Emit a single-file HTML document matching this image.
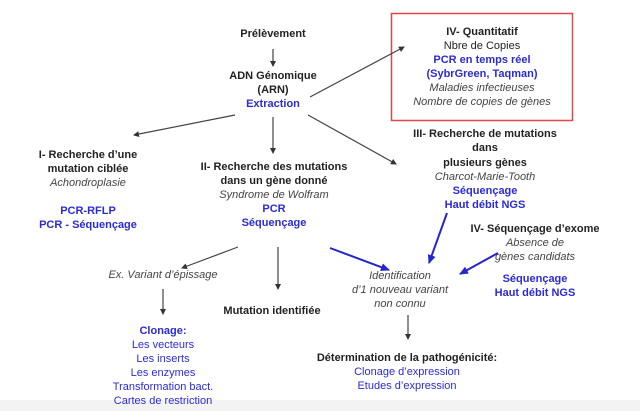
<!DOCTYPE html>
<html><head><meta charset="utf-8"><style>
html,body{margin:0;padding:0;background:#fff;width:640px;height:411px;overflow:hidden}
svg{display:block}
text{font-family:"Liberation Sans",Arial,sans-serif;font-size:11px;fill:#222;text-anchor:middle}
.b{font-weight:bold}
.i{font-style:italic;fill:#444}
.bl{fill:#2b2bd6}
</style></head><body>
<svg width="640" height="411" viewBox="0 0 640 411">
<defs>
<marker id="ak" markerWidth="6" markerHeight="6" refX="5" refY="3" orient="auto" markerUnits="userSpaceOnUse"><path d="M0,0 L6,3 L0,6 z" fill="#333"/></marker>
<marker id="ab" markerWidth="9" markerHeight="8" refX="8" refY="4" orient="auto" markerUnits="userSpaceOnUse"><path d="M0,0 L9,4 L0,8 z" fill="#2424d0"/></marker>
</defs>
<rect x="0" y="400" width="640" height="11" fill="#f3f3f3"/>
<rect x="391.5" y="13.5" width="181" height="107" fill="none" stroke="#e04848" stroke-width="1.5"/>
<g stroke="#444" stroke-width="1.2" fill="none" marker-end="url(#ak)">
<line x1="273" y1="49" x2="273" y2="66"/>
<line x1="310" y1="97" x2="404" y2="47"/>
<line x1="235" y1="115" x2="134" y2="135"/>
<line x1="273" y1="117" x2="273" y2="153"/>
<line x1="308" y1="115" x2="396" y2="164"/>
<line x1="238" y1="247" x2="182" y2="268"/>
<line x1="278" y1="247" x2="278" y2="289"/>
<line x1="163" y1="289" x2="163" y2="314"/>
<line x1="408" y1="315" x2="408" y2="339"/>
</g>
<g stroke="#2424d0" stroke-width="2" fill="none" marker-end="url(#ab)">
<line x1="330" y1="248" x2="389" y2="270"/>
<line x1="447" y1="213" x2="429" y2="263"/>
<line x1="498" y1="253" x2="460" y2="274"/>
</g>
<text x="273" y="37" class="b">Prélèvement</text>
<text x="273" y="79" class="b">ADN Génomique</text>
<text x="273" y="93" class="b">(ARN)</text>
<text x="273" y="107" class="b bl">Extraction</text>
<text x="482" y="35" class="b">IV- Quantitatif</text>
<text x="482" y="49">Nbre de Copies</text>
<text x="482" y="63" class="b bl">PCR en temps réel</text>
<text x="482" y="77" class="b bl">(SybrGreen, Taqman)</text>
<text x="482" y="91" class="i">Maladies infectieuses</text>
<text x="482" y="105" class="i">Nombre de copies de gènes</text>
<text x="88" y="158" class="b">I- Recherche d’une</text>
<text x="88" y="172" class="b">mutation ciblée</text>
<text x="88" y="186" class="i">Achondroplasie</text>
<text x="88" y="214" class="b bl">PCR-RFLP</text>
<text x="88" y="228" class="b bl">PCR - Séquençage</text>
<text x="274" y="170" class="b">II- Recherche des mutations</text>
<text x="274" y="184" class="b">dans un gène donné</text>
<text x="274" y="198" class="i">Syndrome de Wolfram</text>
<text x="274" y="212" class="b bl">PCR</text>
<text x="274" y="226" class="b bl">Séquençage</text>
<text x="485" y="137" class="b">III- Recherche de mutations</text>
<text x="485" y="151" class="b">dans</text>
<text x="485" y="166" class="b">plusieurs gènes</text>
<text x="485" y="180" class="i">Charcot-Marie-Tooth</text>
<text x="485" y="194" class="b bl">Séquençage</text>
<text x="485" y="208" class="b bl">Haut débit NGS</text>
<text x="535" y="232" class="b">IV- Séquençage d’exome</text>
<text x="535" y="246" class="i">Absence de</text>
<text x="535" y="260" class="i">gènes candidats</text>
<text x="535" y="282" class="b bl">Séquençage</text>
<text x="535" y="296" class="b bl">Haut débit NGS</text>
<text x="163" y="278" class="i">Ex. Variant d’épissage</text>
<text x="272" y="314" class="b">Mutation identifiée</text>
<text x="400" y="279" class="i">Identification</text>
<text x="400" y="293" class="i">d’1 nouveau variant</text>
<text x="400" y="307" class="i">non connu</text>
<text x="163" y="334" class="b bl">Clonage:</text>
<text x="163" y="348" class="bl">Les vecteurs</text>
<text x="163" y="362" class="bl">Les inserts</text>
<text x="163" y="376" class="bl">Les enzymes</text>
<text x="163" y="390" class="bl">Transformation bact.</text>
<text x="163" y="404" class="bl">Cartes de restriction</text>
<text x="407" y="361" class="b">Détermination de la pathogénicité:</text>
<text x="407" y="375" class="bl">Clonage d’expression</text>
<text x="407" y="389" class="bl">Etudes d’expression</text>
</svg>
</body></html>
